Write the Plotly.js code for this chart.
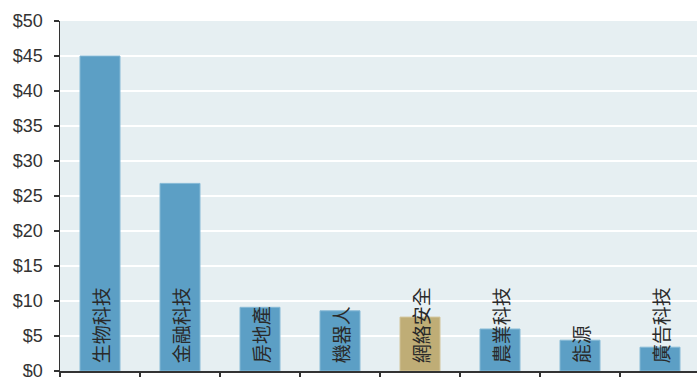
<!DOCTYPE html>
<html>
<head>
<meta charset="utf-8">
<script src="https://cdn.plot.ly/plotly-3.0.1.min.js"></script>
<style>html,body{margin:0;padding:0;background:#fff;}#chart{width:697px;height:377px;}</style>
</head>
<body>
<div id="chart"></div>
<script>
const categories = ['生物科技', '金融科技', '房地產', '機器人', '網絡安全', '農業科技', '能源', '廣告科技'];
const values = [45.0, 26.8, 9.1, 8.6, 7.7, 6.0, 4.4, 3.4];
const highlighted = ['網絡安全'];
const yTickValues = [0, 5, 10, 15, 20, 25, 30, 35, 40, 45, 50];
const yTickLabels = ['$0', '$5', '$10', '$15', '$20', '$25', '$30', '$35', '$40', '$45', '$50'];

const blue = '#5c9fc5';
const gold = '#bfad76';
const colors = categories.map(c => highlighted.includes(c) ? gold : blue);
const lineColors = categories.map(c => highlighted.includes(c) ? '#d2c49a' : '#86bad6');

const trace = {
  type: 'bar',
  x: categories,
  y: values,
  width: 0.5,
  marker: { color: colors, line: { color: lineColors, width: 1 } },
  text: categories.map(c => '\u2005' + c),
  textposition: 'inside',
  insidetextanchor: 'start',
  textangle: -90,
  constraintext: 'none',
  cliponaxis: false,
  textfont: { family: 'Noto Sans CJK TC, sans-serif', size: 19, color: '#2a2a2a' },
  hoverinfo: 'x+y'
};

const layout = {
  width: 697,
  height: 377,
  margin: { l: 60, r: 0, t: 21, b: 6, pad: 0 },
  paper_bgcolor: '#ffffff',
  plot_bgcolor: '#e6eff2',
  showlegend: false,
  bargap: 0.5,
  xaxis: {
    type: 'category',
    range: [-0.5, 7.4625],
    showticklabels: false,
    ticks: 'outside',
    tickson: 'boundaries',
    ticklen: 10,
    tickwidth: 1.3,
    tickcolor: '#333333',
    showline: true,
    linecolor: '#333333',
    linewidth: 1.5,
    showgrid: false,
    zeroline: false
  },
  yaxis: {
    range: [0, 50],
    tickmode: 'array',
    tickvals: yTickValues,
    ticktext: yTickLabels,
    ticks: 'outside',
    ticklen: 5,
    tickwidth: 1.3,
    tickcolor: '#333333',
    ticklabelstandoff: 7,
    ticklabeloverflow: 'allow',
    showline: true,
    linecolor: '#333333',
    linewidth: 1.5,
    showgrid: true,
    gridcolor: '#ffffff',
    gridwidth: 2,
    zeroline: false,
    tickfont: { family: 'Liberation Sans, Arial, sans-serif', size: 18, color: '#333333' }
  },
  font: { family: 'Liberation Sans, Arial, sans-serif', color: '#333333' }
};

Plotly.newPlot('chart', [trace], layout, { displayModeBar: false, staticPlot: true });
</script>
</body>
</html>
